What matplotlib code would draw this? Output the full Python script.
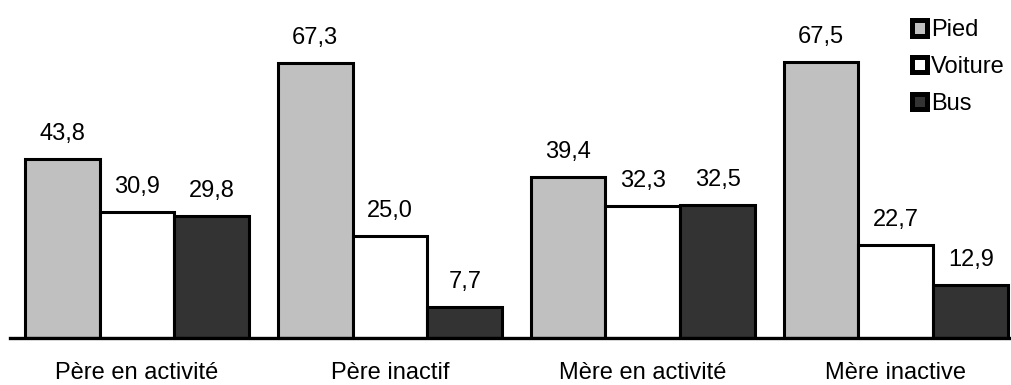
import matplotlib
matplotlib.use("Agg")
import matplotlib.pyplot as plt
import numpy as np
from matplotlib.patches import Patch

categories = ["Père en activité", "Père inactif", "Mère en activité", "Mère inactive"]
series = ["Pied", "Voiture", "Bus"]
pied = [43.8, 67.3, 39.4, 67.5]
voiture = [30.9, 25.0, 32.3, 22.7]
bus = [29.8, 7.7, 32.5, 12.9]

colors = ["#c0c0c0", "#ffffff", "#333333"]
plt.rcParams["font.family"] = ["Liberation Sans", "DejaVu Sans"]

fig = plt.figure(figsize=(10.11, 3.85), dpi=100)
ax = fig.add_axes([10 / 1011, 47 / 385, 1001 / 1011, 327 / 385])

x = np.arange(len(categories))
width = 0.296
for k, (vals, col) in enumerate(zip([pied, voiture, bus], colors)):
    pos = x + (k - 1) * width
    bars = ax.bar(pos, vals, width, color=col, edgecolor="black", linewidth=2.2,
                  label=series[k], zorder=2)
    for b, v in zip(bars, vals):
        ax.annotate(f"{v:.1f}".replace(".", ","),
                    (b.get_x() + b.get_width() / 2, v),
                    xytext=(0, 10), textcoords="offset points",
                    ha="center", va="bottom", fontsize=17)

ax.set_xlim(-0.502, 3.455)
ax.set_ylim(0, 80)
for s in ["top", "right", "left"]:
    ax.spines[s].set_visible(False)
ax.spines["bottom"].set_linewidth(2.4)
ax.spines["bottom"].set_zorder(3)
ax.set_yticks([])
ax.set_xticks(x)
ax.set_xticklabels(categories, fontsize=17)
ax.tick_params(axis="x", length=0, pad=17)

handles = [Patch(facecolor=c, edgecolor="black", linewidth=3.6, joinstyle="round")
           for c in colors]
fig.legend(handles, series, loc="upper left", bbox_to_anchor=(912 / 1011, 0.95),
           frameon=False, fontsize=17, handlelength=0.62, handleheight=0.62,
           handletextpad=0.2, labelspacing=0.62, borderpad=0, borderaxespad=0)

fig.savefig("out.png", dpi=100)
